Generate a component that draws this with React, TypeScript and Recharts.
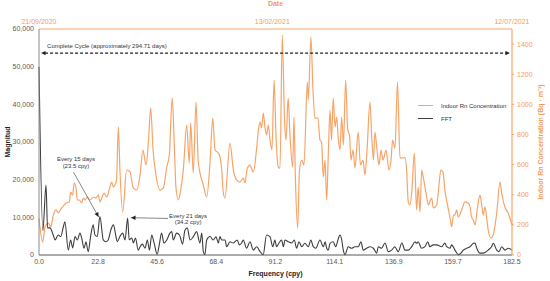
import { LineChart, Line, XAxis, YAxis, ReferenceLine } from 'recharts'

// Indoor Rn concentration (Bq/m3) against days since 21/09/2020
const rnDay = [
  0, 2.3, 3.7, 5.8, 7.3, 8.9, 10.6, 12.0, 13.5, 15.1,
  16.8, 18.8, 19.7, 20.9, 21.8, 23.0, 23.8, 25.0, 26.5, 27.5,
  28.6, 30.0, 31.7, 33.7, 35.4, 36.9, 37.9, 39.0, 40.4, 42.1,
  44.1, 45.2, 46.2, 47.2, 48.2, 49.3, 50.3, 52.0, 54.5, 56.6,
  58.6, 60.7, 62.8, 64.6, 66.5, 68.1, 69.4, 70.9, 72.7, 75.2,
  77.3, 79.4, 81.0, 82.8, 84.2, 85.1, 86.6, 88.1, 89.7, 91.8,
  93.4, 94.3, 95.9, 97.6, 99.0, 102.1, 104.2, 106.3, 108.0, 109.4,
  111.4, 112.5, 113.5, 114.5, 115.6, 118.7, 120.8, 122.9, 124.9, 127.0,
  128.0, 129.5, 131.1, 133.2, 135.3, 136.4, 137.4, 138.3, 139.4, 140.5,
  141.5, 142.5, 143.6, 144.8, 146.1, 147.3, 148.7, 149.8, 151.2, 152.6,
  153.5, 154.9, 156.0, 157.7, 158.5, 159.4, 160.8, 161.9, 163.3, 164.7,
  166.8, 167.4, 169.0, 170.3, 171.5, 173.4, 174.6, 175.6, 176.7, 177.8,
  178.8, 179.9, 180.9, 181.8, 182.9, 184.0, 185.0, 186.1, 187.1, 188.1,
  189.2, 190.6, 191.9, 193.0, 193.9, 195.2, 196.4, 198.4, 199.8, 201.4,
  202.6, 203.9, 205.7, 206.9, 207.9, 208.8, 210.1, 211.3, 212.6, 213.8,
  215.7, 217.5, 218.8, 219.8, 221.3, 222.8, 224.4, 227.5, 228.5, 229.5,
  230.6, 231.8, 233.3, 234.7, 235.7, 236.8, 237.9, 238.8, 241.0, 242.0,
  244.1, 245.1, 247.2, 248.3, 249.8, 251.1, 252.3, 253.9, 255.4, 256.5,
  257.6, 258.5, 259.6, 260.6, 262.7, 264.8, 266.8, 267.9, 268.9, 270.0,
  271.0, 272.6, 274.1, 275.2, 276.1, 277.2, 278.4, 279.2, 280.9, 282.3,
  284.5, 286.5, 287.8, 289.6, 291.3, 292.7, 294,
]
const rnConc = [
  245, 86, 186, 212, 186, 265, 299, 279, 305, 325,
  345, 352, 418, 398, 478, 445, 365, 365, 345, 378,
  365, 385, 365, 385, 378, 398, 352, 378, 411, 385,
  451, 484, 451, 465, 498, 850, 564, 285, 564, 551,
  445, 431, 531, 697, 597, 763, 976, 697, 531, 431,
  445, 584, 664, 1042, 697, 451, 365, 431, 564, 863,
  611, 876, 544, 1015, 617, 465, 385, 611, 909, 697,
  677, 650, 577, 418, 378, 743, 564, 498, 484, 511,
  478, 577, 597, 551, 710, 830, 883, 843, 942, 843,
  796, 863, 763, 697, 1161, 796, 584, 577, 1460, 896,
  763, 1042, 796, 584, 916, 498, 179, 564, 630, 597,
  1148, 1029, 1447, 1095, 909, 909, 763, 750, 518, 630,
  365, 697, 962, 763, 1042, 850, 916, 763, 697, 916,
  730, 1161, 830, 796, 630, 697, 577, 816, 597, 630,
  531, 697, 1015, 763, 630, 816, 697, 597, 697, 630,
  697, 564, 630, 763, 710, 1148, 644, 644, 564, 352,
  332, 431, 677, 299, 451, 285, 564, 518, 385, 332,
  378, 312, 332, 431, 564, 551, 431, 332, 252, 186,
  265, 265, 299, 252, 299, 352, 345, 319, 252, 232,
  199, 319, 398, 332, 265, 319, 232, 166, 113, 133,
  279, 484, 398, 319, 285, 246, 199,
]

// FFT magnitude against frequency (cycles per year)
const fftFreq = [
  0, 1.5, 2.7, 3.3, 4.2, 5.5, 6.2, 7.4, 8.4, 9.4,
  10.0, 11.3, 12.2, 13.0, 13.9, 14.8, 15.8, 16.5, 17.4, 18.1,
  19.0, 19.9, 20.9, 21.6, 22.5, 23.5, 24.8, 25.8, 26.7, 27.7,
  28.7, 29.7, 30.2, 31.2, 32.3, 33.2, 34.2, 34.8, 35.8, 36.4,
  37.2, 38.3, 39.0, 39.9, 40.9, 41.8, 42.6, 43.5, 44.4, 45.6,
  46.4, 47.3, 48.2, 49.3, 50.5, 51.2, 51.8, 53.1, 54.2, 55.4,
  56.3, 57.2, 58.3, 59.5, 60.8, 62.1, 62.8, 63.4, 64.0, 64.7,
  66.0, 67.2, 68.3, 69.2, 69.8, 70.5, 71.8, 72.4, 73.7, 75.0,
  76.5, 77.3, 78.2, 78.8, 80.1, 81.4, 82.7, 84.0, 85.3, 86.5,
  87.8, 89.1, 90.2, 91.0, 91.7, 92.6, 93.6, 94.3, 94.9, 96.2,
  97.5, 98.5, 99.4, 100.3, 101.4, 102.6, 103.9, 104.9, 105.8, 106.8,
  108.4, 109.7, 110.4, 111.0, 111.6, 112.3, 113.5, 114.5, 115.5, 116.1,
  116.8, 117.4, 118.1, 119.3, 120.6, 121.9, 123.2, 124.2, 125.1, 126.4,
  127.7, 129.0, 130.3, 130.9, 132.2, 133.5, 134.8, 136.1, 137.3, 138.6,
  140.0, 141.2, 142.5, 143.8, 145.1, 145.7, 146.3, 147.6, 148.9, 150.0,
  150.8, 152.1, 153.4, 155.4, 156.6, 157.3, 158.6, 159.2, 160.5, 161.8,
  162.8, 163.7, 165.0, 166.3, 167.6, 168.2, 168.9, 170.1, 171.4, 173.3,
  174.6, 175.3, 176.6, 177.5, 178.5, 179.8, 181.1, 182.5,
]
const fftMag = [
  50000, 6500, 18600, 7200, 7200, 5300, 4000, 5300, 4900, 7500,
  8800, 1300, 4000, 1900, 4900, 4000, 5800, 4400, 1800, 3500,
  900, 4900, 8000, 5300, 4900, 10200, 4000, 3500, 4000, 6600,
  8000, 4900, 3500, 4900, 5800, 4000, 9800, 4000, 4500, 3200,
  4500, 1300, 2200, 2900, 1800, 4000, 1300, 5300, 3200, 200,
  2700, 5800, 3200, 4000, 5800, 6200, 4000, 5800, 5300, 2900,
  6600, 7200, 4000, 4800, 6200, 3200, 5800, 900, 100, 4000,
  4900, 4000, 4800, 3200, 4900, 4000, 4000, 2200, 3500, 3200,
  4000, 2700, 3200, 4000, 1800, 3500, 1300, 2200, 900, 100,
  5300, 4900, 2200, 4000, 2200, 3200, 4000, 2200, 4000, 3500,
  3200, 4000, 1800, 3500, 2200, 3100, 2200, 4000, 2200, 1800,
  4000, 2200, 3500, 1800, 1300, 3100, 3500, 2200, 4400, 5300,
  4000, 1300, 100, 2200, 1800, 2200, 2200, 3500, 1300, 1800,
  2200, 1800, 500, 2200, 1800, 3200, 900, 1300, 2200, 900,
  3200, 1300, 1300, 2200, 3500, 3100, 3500, 1800, 2200, 3500,
  2200, 2700, 2700, 2200, 3200, 2200, 1800, 2700, 1300, 100,
  500, 1300, 1800, 2200, 3100, 3200, 1800, 500, 500, 1300,
  2200, 3100, 1300, 900, 2200, 1300, 1800, 1300,
]

const freqTicks = [0, 22.8, 45.6, 68.4, 91.2, 114.1, 136.9, 159.7, 182.5]
const magTicks = [0, 10000, 20000, 30000, 40000, 50000, 60000]
const rnTicks = [0, 200, 400, 600, 800, 1000, 1200, 1400]
const dateTicks = [0, 145, 294]
const dateLabels = ['21/09/2020', '13/02/2021', '12/07/2021']

// annotations
const cycleLevel = 53600
const cycleFrom = 0.8
const cycleTo = 181.7
const cycleText = 'Complete Cycle (approximately 294.71 days)'
const day15From = { x: 13.3, y: 22000 }
const day15To = { x: 23.0, y: 10100 }
const day15Text = ['Every 15 days', '(23.5 cpy)']
const day21From = { x: 49.8, y: 9700 }
const day21To = { x: 35.5, y: 9900 }
const day21Text = ['Every 21 days', '(34.2 cpy)']

const rnData = rnDay.map((day, i) => ({ day, rn: rnConc[i] }))
const fftData = fftFreq.map((freq, i) => ({ freq, fft: fftMag[i] }))

const FONT = '"Liberation Sans", Arial, sans-serif'
const ORANGE = '#F7A468'
const ORANGE_TEXT = '#F39B5B'
const DARK = '#3d3d3d'
const GRAY = '#595959'

const arrowHead = (x1: number, y1: number, x2: number, y2: number, color: string) => {
  const a = Math.atan2(y2 - y1, x2 - x1)
  const l = 4.5
  const w = 2.2
  const bx = x2 - l * Math.cos(a)
  const by = y2 - l * Math.sin(a)
  const px = -Math.sin(a) * w
  const py = Math.cos(a) * w
  return <polygon points={`${x2},${y2} ${bx + px},${by + py} ${bx - px},${by - py}`} fill={color} />
}

const CycleArrow = (p: any) => {
  const { x1, y1, x2, y2 } = p
  return (
    <g>
      <line x1={x1 + 4} y1={y1} x2={x2 - 4} y2={y2} stroke="#222" strokeWidth={1.2} strokeDasharray="3 2" />
      {arrowHead(x2, y2, x1, y1, '#222')}
      {arrowHead(x1, y1, x2, y2, '#222')}
      <text x={x1 + 6} y={y1 - 5} fontSize={6} fontFamily={FONT} fill="#333">{cycleText}</text>
    </g>
  )
}

const callout = (lines: string[], dx: number, dy: number) => (p: any) => {
  const { x1, y1, x2, y2 } = p
  return (
    <g>
      <line x1={x1} y1={y1} x2={x2} y2={y2} stroke="#555" strokeWidth={0.7} />
      {arrowHead(x1, y1, x2, y2, '#222')}
      {lines.map((t, i) => (
        <text key={t} x={x1 + dx} y={y1 + dy + i * 6.5} fontSize={6} fontFamily={FONT} fill="#333" textAnchor="middle">
          {t}
        </text>
      ))}
    </g>
  )
}

const legendItems = [
  { label: 'Indoor Rn Concentration', color: ORANGE },
  { label: 'FFT', color: DARK },
]

export default function App() {
  const tick = { fill: GRAY, fontSize: 7, fontFamily: FONT }
  return (
    <div style={{ position: 'absolute', left: 0, top: 0, width: 550, height: 281, background: '#fff' }}>
      <LineChart width={550} height={281} margin={{ top: 0, right: 0, bottom: 0, left: 0 }}>
        <XAxis
          xAxisId="freq"
          dataKey="freq"
          type="number"
          domain={[0, 182.5]}
          ticks={freqTicks}
          interval={0}
          tickFormatter={(v: number) => v.toFixed(1)}
          height={26}
          axisLine={{ stroke: GRAY }}
          tickLine={false}
          tickSize={2}
          tickMargin={2}
          tick={tick}
          label={{ value: 'Frequency (cpy)', position: 'insideBottom', offset: 5, style: { fontSize: 7, fontWeight: 700, fill: '#222', fontFamily: FONT } }}
        />
        <XAxis
          xAxisId="day"
          orientation="top"
          dataKey="day"
          type="number"
          domain={[0, 294]}
          ticks={dateTicks}
          interval={0}
          tickFormatter={(v: number) => dateLabels[dateTicks.indexOf(v)]}
          height={29}
          axisLine={{ stroke: ORANGE, strokeWidth: 1.2 }}
          tickLine={false}
          tickSize={3}
          tickMargin={2}
          tick={{ ...tick, fill: ORANGE_TEXT }}
          label={{ value: 'Date', position: 'insideTop', offset: 1, style: { fontSize: 7, fontWeight: 700, fill: ORANGE_TEXT, fontFamily: FONT } }}
        />
        <YAxis
          yAxisId="mag"
          domain={[0, 60000]}
          ticks={magTicks}
          interval={0}
          tickFormatter={(v: number) => v.toLocaleString('en-US')}
          width={39}
          axisLine={{ stroke: '#8c8c8c' }}
          tickLine={false}
          tickSize={2}
          tickMargin={3}
          tick={tick}
          label={{ value: 'Magnitud', angle: -90, position: 'insideLeft', offset: 8, style: { textAnchor: 'middle', fontSize: 7, fontWeight: 700, fill: '#222', fontFamily: FONT } }}
        />
        <YAxis
          yAxisId="rn"
          orientation="right"
          domain={[0, 1500]}
          ticks={rnTicks}
          interval={0}
          width={38}
          axisLine={{ stroke: ORANGE, strokeWidth: 1.2 }}
          tickLine={{ stroke: ORANGE }}
          tickSize={2}
          tickMargin={3}
          tick={{ ...tick, fill: ORANGE_TEXT }}
          label={{ value: 'Indoor Rn Concentration (Bq · m⁻³)', angle: -90, position: 'insideRight', offset: 9, style: { textAnchor: 'middle', fontSize: 7, fontWeight: 700, fill: ORANGE_TEXT, fontFamily: FONT } }}
        />
        <Line
          xAxisId="day"
          yAxisId="rn"
          data={rnData}
          dataKey="rn"
          name="Indoor Rn Concentration"
          type="monotone"
          stroke={ORANGE}
          strokeWidth={1.2}
          dot={false}
          isAnimationActive={false}
        />
        <Line
          xAxisId="freq"
          yAxisId="mag"
          data={fftData}
          dataKey="fft"
          name="FFT"
          type="monotone"
          stroke={DARK}
          strokeWidth={1.1}
          dot={false}
          isAnimationActive={false}
        />
        <ReferenceLine
          xAxisId="freq"
          yAxisId="mag"
          segment={[{ x: cycleFrom, y: cycleLevel }, { x: cycleTo, y: cycleLevel }]}
          shape={CycleArrow}
          ifOverflow="visible"
        />
        <ReferenceLine
          xAxisId="freq"
          yAxisId="mag"
          segment={[day15From, day15To]}
          shape={callout(day15Text, 2.5, -11)}
          ifOverflow="visible"
        />
        <ReferenceLine
          xAxisId="freq"
          yAxisId="mag"
          segment={[day21From, day21To]}
          shape={callout(day21Text, 20, -0.5)}
          ifOverflow="visible"
        />
      </LineChart>
      <div style={{ position: 'absolute', left: 418, top: 99, fontFamily: FONT, fontSize: 6, color: '#333' }}>
        {legendItems.map((it) => (
          <div key={it.label} style={{ display: 'flex', alignItems: 'center', height: 13 }}>
            <span style={{ display: 'inline-block', flexShrink: 0, width: 15, height: 1.5, background: it.color, marginRight: 8 }} />
            {it.label}
          </div>
        ))}
      </div>
    </div>
  )
}
